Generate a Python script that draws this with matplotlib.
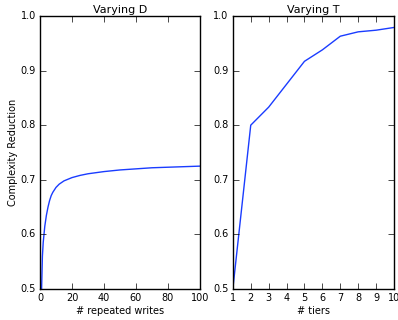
import matplotlib
matplotlib.use("Agg")
import matplotlib.pyplot as plt

# Varying D: complexity reduction vs repeated writes
writes = [1, 1.5, 2, 2.5, 3, 4, 5, 6, 7, 8, 10, 12, 15, 20, 25, 30, 40, 50, 60, 70, 80, 90, 100]
red_writes = [0.5, 0.56, 0.585, 0.6, 0.615, 0.635, 0.65, 0.662, 0.671, 0.677, 0.686, 0.692,
              0.698, 0.704, 0.708, 0.711, 0.715, 0.718, 0.720, 0.722, 0.723, 0.724, 0.725]

# Varying T: complexity reduction vs tiers
tiers = [1, 2, 3, 4, 5, 6, 7, 8, 9, 10]
red_tiers = [0.5, 0.8, 0.833, 0.875, 0.917, 0.938, 0.963, 0.971, 0.974, 0.979]

plt.style.use("classic")
plt.rcParams["font.family"] = "DejaVu Sans"

fig = plt.figure(figsize=(3.98, 3.2), dpi=100, facecolor="white")
ax1 = fig.add_axes([0.1005, 0.097, 0.402, 0.853])
ax2 = fig.add_axes([0.585, 0.097, 0.405, 0.853])

line_col = "#1a3cff"

ax1.plot(writes, red_writes, color=line_col, lw=1)
ax1.set_xlim(0, 100)
ax1.set_ylim(0.5, 1.0)
ax1.set_title("Varying D", fontsize=8, pad=2)
ax1.set_xlabel("# repeated writes", fontsize=7, labelpad=2)
ax1.set_ylabel("Complexity Reduction", fontsize=7, labelpad=2)

ax2.plot(tiers, red_tiers, color=line_col, lw=1)
ax2.set_xlim(1, 10)
ax2.set_ylim(0.5, 1.0)
ax2.set_xticks(tiers)
ax2.set_title("Varying T", fontsize=8, pad=2)
ax2.set_xlabel("# tiers", fontsize=7, labelpad=2)

for ax in (ax1, ax2):
    ax.set_facecolor("white")
    ax.tick_params(labelsize=7, pad=3)

fig.savefig("out.png", dpi=100, facecolor="white")
